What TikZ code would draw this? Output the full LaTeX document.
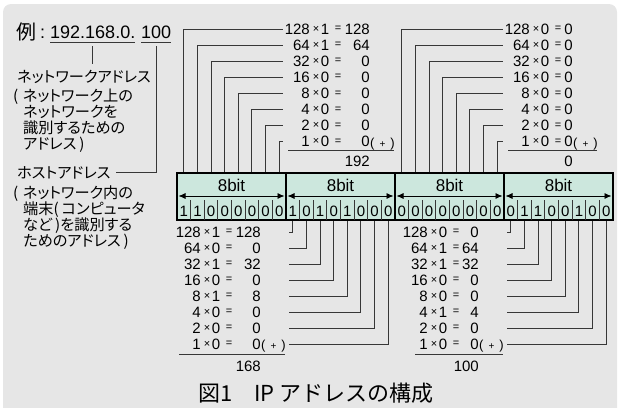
\documentclass[tikz,border=0pt]{standalone}
\usepackage{fontspec}
\setmainfont{Liberation Sans}
\newfontfamily\jp[RawFeature=+palt]{Noto Sans CJK JP}
\newfontfamily\jpcap{Noto Sans CJK JP}
\usetikzlibrary{arrows.meta}
\definecolor{bggray}{RGB}{230,230,230}
\definecolor{regfill}{RGB}{204,231,221}
\definecolor{wire}{RGB}{55,55,55}
\newcommand{\fsz}[1]{\fontsize{#1}{#1}\selectfont}
\tikzset{
  wire/.style={draw=wire, line width=0.9pt},
  num/.style={inner sep=0pt, font=\fsz{15}},
  op/.style={inner sep=0pt, font=\fsz{11}},
  plus/.style={inner sep=0pt, font=\fsz{13}, anchor=base west},
  jline/.style={inner sep=0pt, anchor=base west, font=\fsz{15.2}\jp},
  bitcell/.style={inner sep=0pt, font=\fsz{15}},
  span/.style={{Latex[length=7pt,width=6pt]}-{Latex[length=7pt,width=6pt]}, line width=0.8pt},
}

\begin{document}
\begin{tikzpicture}[x=1pt,y=-1pt]
\clip (0,0) rectangle (621,407);
\fill[bggray,rounded corners=8pt] (3,4) rectangle (617,430);

% example address
\node[inner sep=0pt,anchor=base east,font=\fsz{20}\jp] (ex) at (37,39) {例};
\node[inner sep=0pt,anchor=base,font=\fsz{18}] (colon) at (42.5,38) {:};
\node[inner sep=0pt,anchor=base west,font=\fsz{18}] (net) at (50,38) {192.168.0.};
\node[inner sep=0pt,anchor=base west,font=\fsz{18}] (host) at (141,38) {100};
\draw[wire] ([yshift=-4pt]net.base west) -- ([yshift=-4pt]net.base east);
\draw[wire] ([yshift=-4pt]host.base west) -- ([yshift=-4pt]host.base east);

% network part
\node[jline,inner ysep=6pt] (netlbl) at (17,82) {ネットワークアドレス};
\foreach \x/\t [count=\k] in {13/{(\hspace{4.5pt}ネットワーク上の},23/{ネットワークを},23/{識別するための},23/{アドレス\hspace{3pt})}}
  \node[jline] (netsub\k) at (\x,{101+16*(\k-1)}) {\t};
\draw[wire] ([yshift=-8pt]net.base) -- (net.base |- netlbl.north);

% host part
\node[jline] (hostlbl) at (17,178) {ホストアドレス};
\foreach \x/\t [count=\k] in {13/{(\hspace{4.5pt}ネットワーク内の},23/{端末(\hspace{3pt}コンピュータ},23/{など\hspace{3pt})を識別する},23/{ためのアドレス\hspace{3pt})}}
  \node[jline] (hostsub\k) at (\x,{198+16.3*(\k-1)}) {\t};
\draw[wire] ([yshift=-8pt]host.base) |- ([xshift=5pt]hostlbl.east);

% register
\node[draw,line width=1.6pt,fill=regfill,minimum width=436pt,minimum height=47pt,inner sep=0pt] (reg) at (395,196.5) {};
\foreach \g/\gx/\bits in {A/177/{1,1,0,0,0,0,0,0},B/286/{1,0,1,0,1,0,0,0},C/395/{0,0,0,0,0,0,0,0},D/504/{0,1,1,0,0,1,0,0}} {
  \node[font=\fsz{17},inner sep=0pt] (byte\g) at (\gx+54.5,185) {8bit};
  \draw[span] (\gx+1.5,196) -- (\gx+107.5,196);
  \foreach \b [count=\i] in \bits
    \node[bitcell] (bit\g\i) at ({\gx+\i*13.625-6.8125},211) {\b};
  \foreach \i in {1,...,7}
    \draw[wire] ({\gx+\i*13.625},200) -- ({\gx+\i*13.625},220);
  \draw[line width=1.4pt] (\gx,173) -- (\gx,220);
}

% weights above byte 1 and 3
\foreach \g/\E/\d/\bits/\tot/\ul in {A/338/32/{1,1,0,0,0,0,0,0}/192/288,C/558/15/{0,0,0,0,0,0,0,0}/0/508} {
  \foreach \b [count=\i] in \bits {
    \pgfmathsetmacro\ry{29+16.1*(\i-1)}
    \pgfmathtruncatemacro\w{2^(8-\i)}
    \pgfmathtruncatemacro\p{\w*\b}
    \node[num,anchor=east] (wt\g\i) at (\E-28,\ry) {\w};
    \node[op] (x\g\i) at (\E-22,\ry) {×};
    \node[num] (bv\g\i) at (\E-13,\ry) {\b};
    \node[op] (eq\g\i) at (\E,\ry) {=};
    \node[num,anchor=east] (pr\g\i) at (\E+\d,\ry) {\p};
    \coordinate (e\g\i) at (\E-55,\ry);
    \draw[wire] (reg.north -| bit\g\i) |- (e\g\i);
  }
  \node[plus] (pl\g) at (\E+\d,147.1) {(\hspace{5pt}{\fsz{10}+}\hspace{5pt})};
  \draw[wire] (\ul,150) -- (\E+\d+24,150);
  \node[num,anchor=east] (sum\g) at (\E+\d,161) {\tot};
}

% weights below byte 2 and 4
\foreach \g/\E/\d/\bits/\tot/\ul in {B/229/32/{1,0,1,0,1,0,0,0}/168/179,D/456/23/{0,1,1,0,0,1,0,0}/100/415} {
  \foreach \b [count=\i] in \bits {
    \pgfmathsetmacro\ry{232+16*(\i-1)}
    \pgfmathtruncatemacro\w{2^(8-\i)}
    \pgfmathtruncatemacro\p{\w*\b}
    \node[num,anchor=east] (wt\g\i) at (\E-28,\ry) {\w};
    \node[op] (x\g\i) at (\E-22,\ry) {×};
    \node[num] (bv\g\i) at (\E-13,\ry) {\b};
    \node[op] (eq\g\i) at (\E,\ry) {=};
    \node[num,anchor=east] (pr\g\i) at (\E+\d,\ry) {\p};
    \coordinate (e\g\i) at (\E+\d+28,\ry);
    \draw[wire] (reg.south -| bit\g\i) |- (e\g\i);
  }
  \node[plus] (pl\g) at (\E+\d,349.4) {(\hspace{5pt}{\fsz{10}+}\hspace{5pt})};
  \draw[wire] (\ul,354) -- (\E+\d+24,354);
  \node[num,anchor=east] (sum\g) at (\E+\d,366) {\tot};
}

% caption
\node[inner sep=0pt,anchor=base,font=\fsz{22}\jpcap] (cap) at (316,401) {図1　IP アドレスの構成};
\end{tikzpicture}
\end{document}
